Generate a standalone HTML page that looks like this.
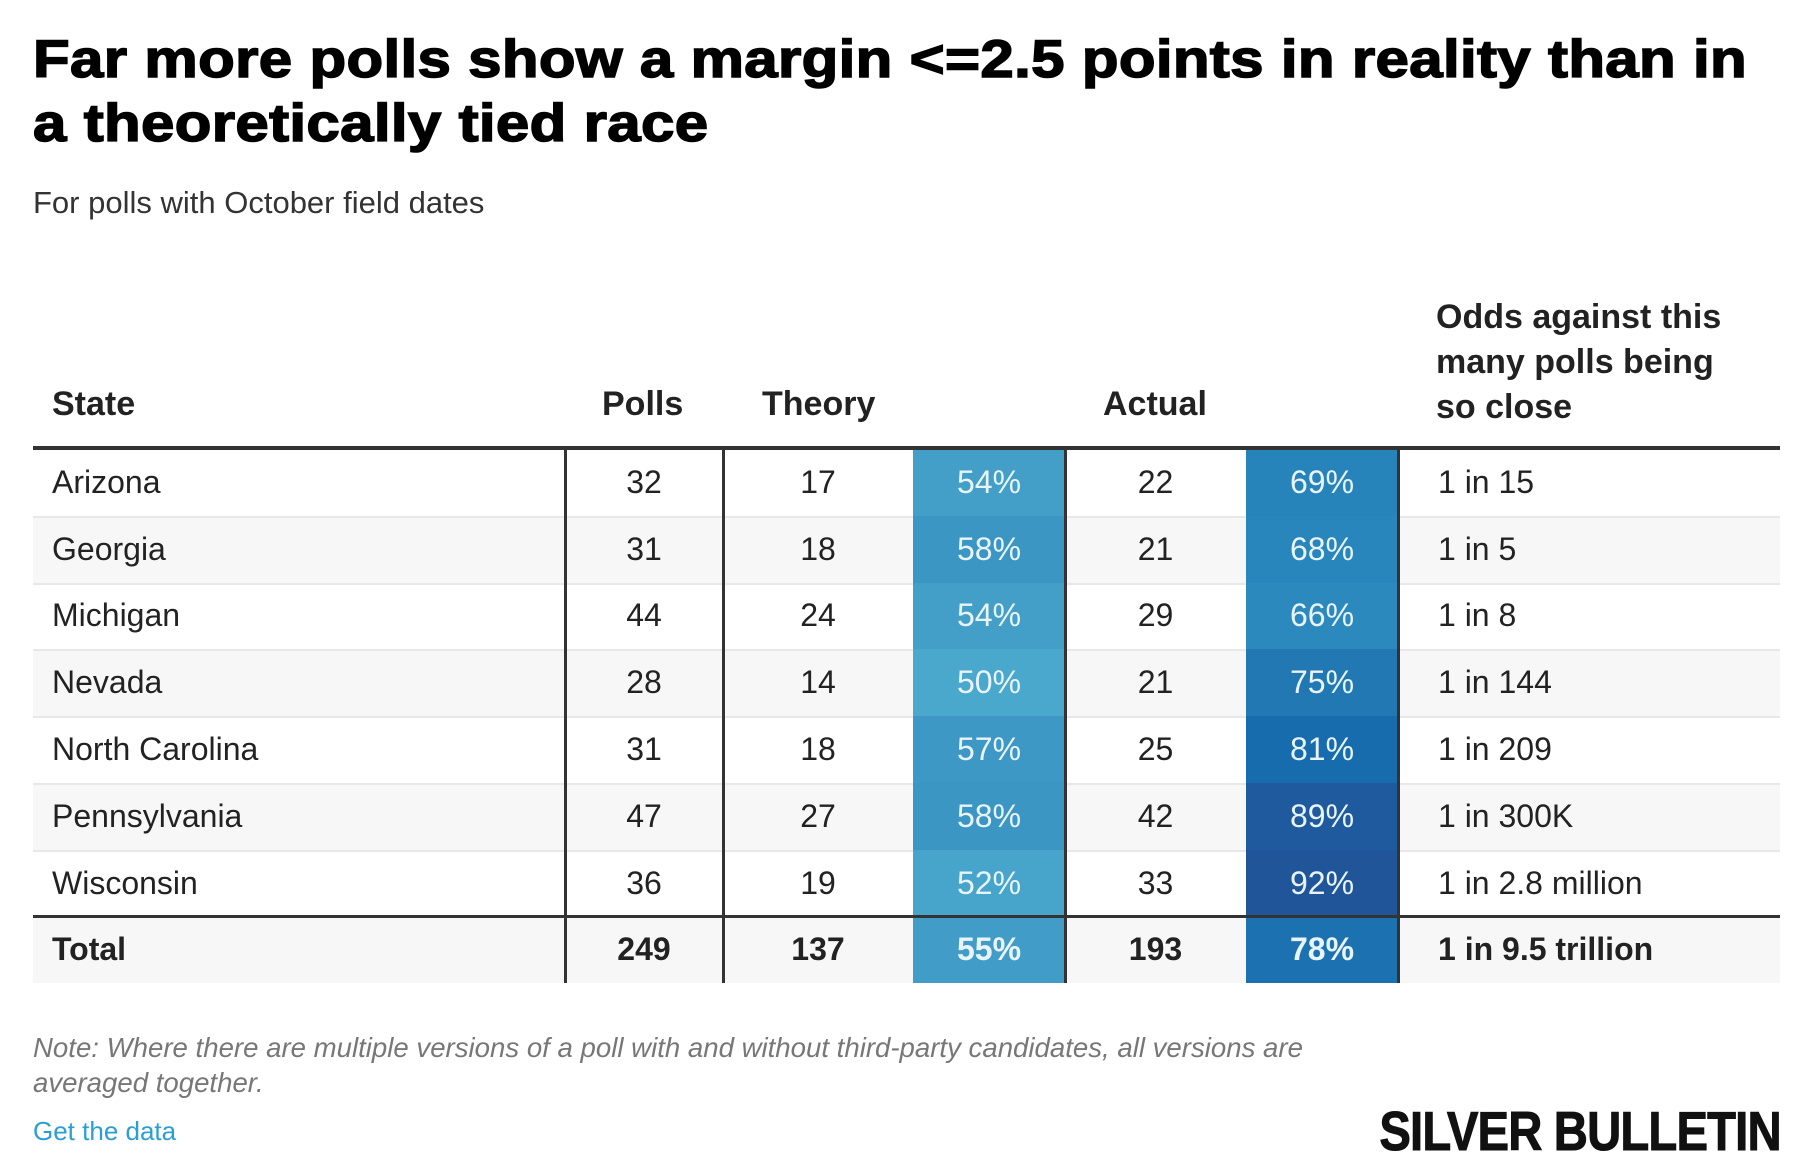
<!DOCTYPE html>
<html><head><meta charset="utf-8">
<style>
body{margin:0;width:1820px;height:1172px;background:#fff;font-family:"Liberation Sans",sans-serif;position:relative;overflow:hidden;color:#222}
.a{position:absolute;white-space:nowrap}
#title{left:33px;top:28px;font-size:53px;font-weight:900;line-height:64px;color:#000;letter-spacing:0.3px;-webkit-text-stroke:1.5px #000;transform:scaleX(1.132);transform-origin:left top}
#sub{left:33px;top:185px;font-size:31px;color:#333}
.h{font-size:34px;font-weight:bold;color:#222}
.cell{position:absolute;font-size:32px;display:flex;align-items:center;color:#222}
</style></head><body>
<div class="a" id="title">Far more polls show a margin &lt;=2.5 points in reality than in<br>a theoretically tied race</div>
<div class="a" id="sub">For polls with October field dates</div>
<div class="a h" style="left:52px;top:385px">State</div>
<div class="a h" style="left:602px;top:385px">Polls</div>
<div class="a h" style="left:762px;top:385px">Theory</div>
<div class="a h" style="left:1103px;top:385px">Actual</div>
<div class="a h" style="left:1436px;top:295px;line-height:45px">Odds against this<br>many polls being<br>so close</div>
<div id="tbl"></div>
<div class="a" style="left:33px;top:1030px;font-size:27.6px;font-style:italic;color:#777;line-height:35px">Note: Where there are multiple versions of a poll with and without third-party candidates, all versions are<br>averaged together.</div>
<div class="a" style="left:33px;top:1116px;font-size:26px;color:#2a9fd6">Get the data</div>
<div class="a" style="right:39px;top:1099px;font-size:55px;font-weight:bold;color:#111;letter-spacing:-1px;-webkit-text-stroke:1px #111;transform:scaleX(0.86);transform-origin:right top">SILVER BULLETIN</div>
<script>
const states=["Arizona","Georgia","Michigan","Nevada","North Carolina","Pennsylvania","Wisconsin","Total"];
const polls=[32,31,44,28,31,47,36,249];
const theory=[17,18,24,14,18,27,19,137];
const theoryPct=[54,58,54,50,57,58,52,55];
const actual=[22,21,29,21,25,42,33,193];
const actualPct=[69,68,66,75,81,89,92,78];
const odds=["1 in 15","1 in 5","1 in 8","1 in 144","1 in 209","1 in 300K","1 in 2.8 million","1 in 9.5 trillion"];
const stops=[[50,[74,168,204]],[58,[60,150,196]],[68,[40,134,188]],[75,[33,120,179]],[81,[23,108,174]],[89,[31,90,158]],[92,[32,85,153]]];
function col(p){for(let i=0;i<stops.length-1;i++){const[a,ca]=stops[i],[b,cb]=stops[i+1];if(p<=b){const t=Math.max(0,(p-a)/(b-a));return 'rgb('+ca.map((v,k)=>Math.round(v+(cb[k]-v)*t)).join(',')+')';}}return 'rgb(32,85,153)';}
const tbl=document.getElementById('tbl');
const top0=449,rh=66.8,L=33,R=1780;
function add(x,y,w,h,css,txt,name,align){const d=document.createElement('div');d.className='cell';d.style.cssText+=`left:${x}px;top:${y}px;width:${w}px;height:${h}px;justify-content:${align||'center'};`+css;if(txt!==undefined)d.textContent=txt;


tbl.appendChild(d);return d;}
states.forEach((s,i)=>{
 const y=top0+i*rh,tot=i===states.length-1,fw=tot?'font-weight:bold;':'';
 add(L,y,R-L,rh,(i%2?'background:#f7f7f7;':'')+(i>0&&!tot?'border-top:2px solid #e8e8e8;box-sizing:border-box;':''),'','row-'+s.toLowerCase().replace(' ','-'));
 add(52,y,500,rh,fw,s,'state-name','flex-start');
 add(565,y,158,rh,fw,polls[i],'polls-value');
 add(723,y,190,rh,fw,theory[i],'theory-count');
 add(913,y,152,rh,fw+'background:'+col(theoryPct[i])+';color:#e8f4fa;',theoryPct[i]+'%','theory-pct');
 add(1065,y,181,rh,fw,actual[i],'actual-count');
 add(1246,y,152,rh,fw+'background:'+col(actualPct[i])+';color:#e8f4fa;',actualPct[i]+'%','actual-pct');
 add(1438,y,340,rh,fw,odds[i],'odds-value','flex-start');
});
const bottom=top0+states.length*rh;
[565,723,1065,1398].forEach(x=>add(x-1.5,top0,3,bottom-top0,'background:#333;',undefined,'column-divider'));
add(L,top0-3,R-L,4,'background:#333;',undefined,'header-rule');
add(L,top0+7*rh-1.5,R-L,3,'background:#333;',undefined,'total-rule');
</script>
</body></html>
